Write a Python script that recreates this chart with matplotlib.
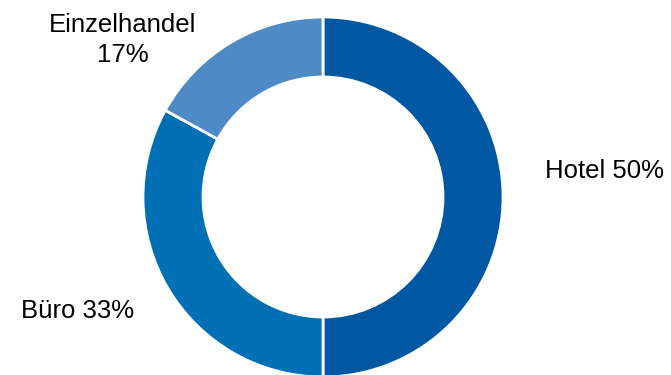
import matplotlib
matplotlib.use('Agg')
import matplotlib.pyplot as plt

# Anteile nach Nutzungsart
categories = ['Hotel', 'Büro', 'Einzelhandel']
shares = [50, 33, 17]
colors = ['#0057a2', '#006fb3', '#4e8bc6']

plt.rcParams['font.family'] = ['Liberation Sans', 'DejaVu Sans']

fig = plt.figure(figsize=(6.71, 3.75), dpi=100)
ax = fig.add_axes([0, 0, 1, 1])

# ring in pixel units: centre, outer radius, ring width
cx, cy, r_out, ring = 323, 178, 180, 60
ax.pie(shares, colors=colors, startangle=90, counterclock=False,
       center=(cx, cy), radius=r_out,
       wedgeprops=dict(width=ring, edgecolor='white', linewidth=2))

ax.set_xlim(0, 671)
ax.set_ylim(0, 375)
ax.set_aspect('equal')
ax.axis('off')

fs = 18.5
ax.text(545, 197, f'{categories[0]} {shares[0]}%', fontsize=fs,
        ha='left', va='baseline')
ax.text(21, 57, f'{categories[1]} {shares[1]}%', fontsize=fs,
        ha='left', va='baseline')
# baseline of the last line ("17%")
ax.text(123, 313, f'{categories[2]}\n{shares[2]}%', fontsize=fs,
        ha='center', va='baseline', multialignment='center', linespacing=1.32)

fig.savefig('out.png', dpi=100)
